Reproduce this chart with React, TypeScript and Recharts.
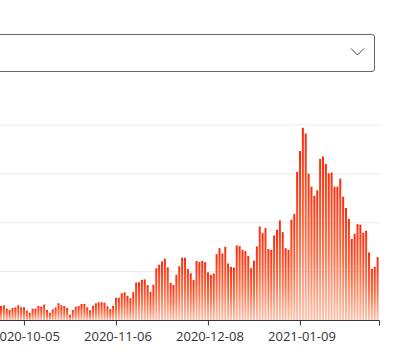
import React from 'react';
import { BarChart, Bar, XAxis, YAxis, CartesianGrid } from 'recharts';

const START_DATE = '2020-09-03';
const LABEL_EVERY = 32;
const yTicks = [0, 1000, 2000, 3000, 4000];

const cases = [
  300, 280, 250, 320, 350, 290, 260, 240, 310, 330, 280, 270, 300, 340, 310, 260, 230, 290, 320, 300, 270, 250, 300, 320,
  297, 311, 243, 215, 256, 270, 311, 270, 270, 202,
  160, 243, 243, 297, 284, 325,
  215, 160, 229, 270, 352,
  311, 297, 256, 119,
  215, 284, 297,
  338, 338, 270, 210, 300, 352, 370, 375,
  362, 290, 232, 300,
  465, 465, 557, 575, 505, 455,
  580, 776, 785, 831, 840, 725, 588, 730,
  1068, 1142, 1205,
  1265, 1088, 773, 728, 933, 1108, 1286, 1286, 1052,
  965, 828, 1218, 1196, 1221, 1193, 988, 933, 961,
  1357, 1480, 1371, 1508, 1166, 1097, 1084, 1535, 1521,
  1446, 1419, 1323, 1070, 1220, 1515, 1925, 1788, 1890, 1460,
  1446, 1740, 1856, 2048, 1808, 1480, 1446, 2062, 2178, 3039,
  3470, 3942, 3826, 3005, 2738, 2554, 2663, 3306, 3354, 3204,
  3011, 3026, 2738, 2738, 2903, 2533, 2302, 2082, 1672, 1774,
  1973, 1959, 1795, 1836, 1391, 1056, 1097, 1296,
];

function buildDates(start: string, n: number): string[] {
  const out: string[] = [];
  const d = new Date(start + 'T00:00:00Z');
  for (let i = 0; i < n; i++) {
    out.push(d.toISOString().slice(0, 10));
    d.setUTCDate(d.getUTCDate() + 1);
  }
  return out;
}

const dates = buildDates(START_DATE, cases.length);
const data = dates.map((date, i) => ({ date, value: cases[i] }));

const AXIS_COLOR = '#333';

const AxisTick = (props: any) => {
  const { x, y, payload } = props;
  const i = payload.index;
  const half = typeof payload.offset === 'number' ? payload.offset : 1.44;
  const last = data.length - 1;
  return (
    <g>
      {i % LABEL_EVERY === 0 && (
        <>
          <line x1={x} x2={x} y1={y} y2={y + 5} stroke={AXIS_COLOR} strokeWidth={1} />
          <text
            x={x + 1.5}
            y={y + 20}
            textAnchor="middle"
            fill="#333"
            fontSize={13}
            fontFamily="'Open Sans', sans-serif"
          >
            {payload.value}
          </text>
        </>
      )}
      {i === last && (
        <line x1={x + half} x2={x + half} y1={y} y2={y + 5} stroke={AXIS_COLOR} strokeWidth={1} />
      )}
    </g>
  );
};

export default function App() {
  return (
    <div
      style={{
        position: 'absolute',
        left: 0,
        top: 0,
        width: 400,
        height: 359,
        overflow: 'hidden',
        background: '#fff',
      }}
    >
      <div
        style={{
          position: 'absolute',
          left: -10,
          top: 34,
          width: 385,
          height: 38,
          boxSizing: 'border-box',
          border: '1px solid #666',
          borderRadius: 3,
          background: '#fff',
        }}
      >
        <svg
          width={16}
          height={10}
          style={{ position: 'absolute', right: 8, top: 12 }}
        >
          <polyline points="1,1.5 7.5,8 14,1.5" fill="none" stroke="#444" strokeWidth={1} />
        </svg>
      </div>
      <div style={{ position: 'absolute', left: -69.44, top: 0 }}>
        <BarChart
          width={470}
          height={359}
          data={data}
          margin={{ top: 125, right: 21.5, bottom: 8.5, left: 0 }}
          barSize={2}
        >
          <defs>
            <linearGradient id="barGrad" x1="0" y1="0" x2="0" y2="1">
              <stop offset="0%" stopColor="#ff2a0a" />
              <stop offset="50%" stopColor="#ff6a40" />
              <stop offset="100%" stopColor="#ffc4ae" />
            </linearGradient>
          </defs>
          <CartesianGrid vertical={false} stroke="#ebebeb" />
          <YAxis hide domain={[0, 4000]} ticks={yTicks} />
          <XAxis
            dataKey="date"
            interval={0}
            tickLine={false}
            tickSize={0}
            tickMargin={0}
            height={30}
            axisLine={{ stroke: AXIS_COLOR, strokeWidth: 1 }}
            tick={<AxisTick />}
          />
          <Bar dataKey="value" fill="url(#barGrad)" isAnimationActive={false} />
        </BarChart>
      </div>
    </div>
  );
}
